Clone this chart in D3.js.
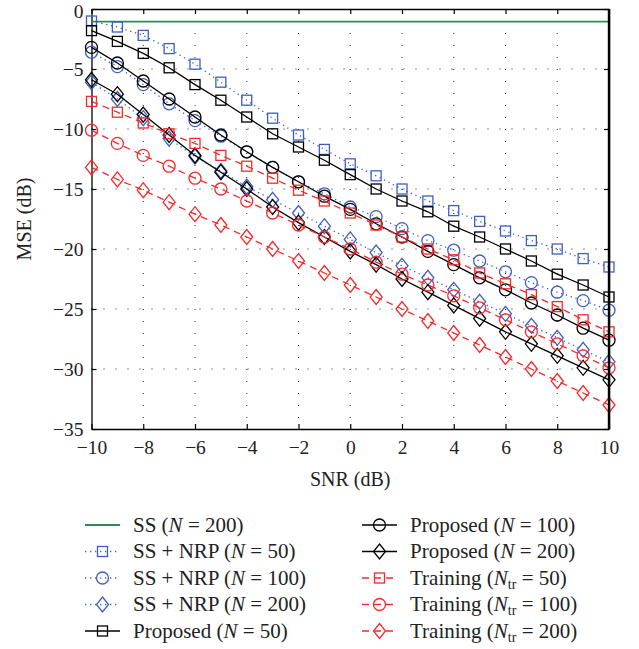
<!DOCTYPE html>
<html>
<head>
<meta charset="utf-8">
<script src="https://cdn.jsdelivr.net/npm/d3@7"></script>
<style>
  body { margin: 0; background: #fff; }
  svg text { font-family: "Liberation Serif", "Times New Roman", Times, "DejaVu Serif", serif; }
</style>
</head>
<body>
<svg id="chart"></svg>
<script>
// SNR axis values (dB)
const snr = d3.range(-10, 11, 1);

// MSE (dB) per series
const ssN200      = snr.map(() => -1.05);
const nrpN50      = [-1.0, -1.5, -2.2, -3.3, -4.6, -6.1, -7.6, -9.1, -10.5, -11.7, -12.9, -13.9, -15.0, -16.0, -16.8, -17.7, -18.5, -19.3, -20.0, -20.8, -21.5];
const nrpN100     = [-3.6, -4.8, -6.3, -7.9, -9.3, -10.6, -11.9, -13.2, -14.4, -15.4, -16.5, -17.3, -18.3, -19.3, -20.1, -21.0, -21.9, -22.8, -23.6, -24.3, -25.1];
const nrpN200     = [-6.1, -7.5, -9.1, -10.8, -12.3, -13.5, -14.8, -15.9, -17.0, -18.1, -19.2, -20.3, -21.4, -22.4, -23.4, -24.4, -25.4, -26.4, -27.4, -28.4, -29.4];
const propN50     = [-1.8, -2.7, -3.7, -4.9, -6.3, -7.6, -9.0, -10.4, -11.5, -12.6, -13.8, -15.0, -16.0, -16.9, -18.1, -19.0, -20.0, -21.0, -22.1, -23.0, -24.0];
const propN100    = [-3.2, -4.5, -6.0, -7.5, -9.0, -10.5, -11.9, -13.2, -14.4, -15.6, -16.7, -17.9, -19.0, -20.2, -21.3, -22.4, -23.4, -24.5, -25.5, -26.6, -27.6];
const propN200    = [-5.9, -7.1, -8.8, -10.5, -12.2, -13.6, -15.0, -16.5, -17.8, -19.0, -20.2, -21.3, -22.5, -23.6, -24.7, -25.8, -26.9, -27.9, -28.9, -29.9, -30.9];
const trainN50    = [-7.7, -8.6, -9.5, -10.4, -11.2, -12.2, -13.1, -14.1, -15.1, -16.0, -17.0, -18.0, -19.0, -20.0, -20.9, -22.0, -22.9, -23.8, -24.8, -25.9, -26.9];
const trainN100   = [-10.1, -11.2, -12.2, -13.1, -14.1, -15.0, -16.0, -17.0, -18.0, -19.0, -20.0, -21.1, -22.1, -23.0, -23.9, -24.9, -25.9, -26.9, -27.9, -28.9, -29.9];
const trainN200   = [-13.2, -14.2, -15.1, -16.1, -17.1, -18.0, -19.0, -20.0, -21.0, -22.0, -23.0, -24.0, -25.0, -26.0, -27.0, -28.0, -29.0, -30.0, -31.0, -32.0, -33.0];

// tick values
const xTicks = [-10, -8, -6, -4, -2, 0, 2, 4, 6, 8, 10];
const yTicks = [0, -5, -10, -15, -20, -25, -30, -35];

const BLUE = "#3d5fc4", RED = "#f52a2a", GREEN = "#2e8b57", BLACK = "#000";

const series = [
  { name: "SS", n: "N", val: "200", data: ssN200,    color: GREEN, dash: null,    marker: null, w: 1.8 },
  { name: "SS + NRP", n: "N", val: "50",  data: nrpN50,  color: BLUE,  dash: "1.3,3.7", marker: "square" },
  { name: "SS + NRP", n: "N", val: "100", data: nrpN100, color: BLUE,  dash: "1.3,3.7", marker: "circle" },
  { name: "SS + NRP", n: "N", val: "200", data: nrpN200, color: BLUE,  dash: "1.3,3.7", marker: "diamond" },
  { name: "Proposed", n: "N", val: "50",  data: propN50,  color: BLACK, dash: null, marker: "square" },
  { name: "Proposed", n: "N", val: "100", data: propN100, color: BLACK, dash: null, marker: "circle" },
  { name: "Proposed", n: "N", val: "200", data: propN200, color: BLACK, dash: null, marker: "diamond" },
  { name: "Training", n: "N", sub: "tr", val: "50",  data: trainN50,  color: RED, dash: "7,5", marker: "square" },
  { name: "Training", n: "N", sub: "tr", val: "100", data: trainN100, color: RED, dash: "7,5", marker: "circle" },
  { name: "Training", n: "N", sub: "tr", val: "200", data: trainN200, color: RED, dash: "7,5", marker: "diamond" }
];

const width = 639, height = 649;
const margin = { top: 9, right: 30, bottom: 220, left: 91.5 };
const svg = d3.select("#chart").attr("width", width).attr("height", height);

const x = d3.scaleLinear().domain([-10, 10]).range([margin.left, width - margin.right]);
const y = d3.scaleLinear().domain([0, -35]).range([margin.top, height - margin.bottom]);

// grid
const grid = svg.append("g").attr("stroke", "#222").attr("stroke-width", 1).attr("stroke-dasharray", "1,11");
grid.selectAll(".gx").data(xTicks.slice(1, -1)).enter().append("line")
  .attr("x1", d => x(d)).attr("x2", d => x(d)).attr("y1", y(0)).attr("y2", y(-35));
grid.selectAll(".gy").data(yTicks.slice(1, -1)).enter().append("line")
  .attr("y1", d => y(d)).attr("y2", d => y(d)).attr("x1", x(-10)).attr("x2", x(10));

// axes
const fmt = d3.format("d");
const xAxis = svg.append("g").attr("transform", `translate(0,${y(-35)})`)
  .call(d3.axisBottom(x).tickValues(xTicks).tickSizeInner(-5).tickSizeOuter(0).tickPadding(11).tickFormat(fmt));
const yAxis = svg.append("g").attr("transform", `translate(${x(-10)},0)`)
  .call(d3.axisLeft(y).tickValues(yTicks).tickSizeInner(-5).tickSizeOuter(0).tickPadding(8).tickFormat(fmt));
svg.append("g").attr("transform", `translate(0,${y(0)})`)
  .call(d3.axisTop(x).tickValues(xTicks).tickSizeInner(-5).tickSizeOuter(0).tickFormat(""));
svg.append("g").attr("transform", `translate(${x(10)},0)`)
  .call(d3.axisRight(y).tickValues(yTicks).tickSizeInner(-5).tickSizeOuter(0).tickFormat(""));
svg.selectAll(".domain").attr("stroke", "#000").attr("stroke-width", 1.3);
svg.selectAll(".tick line").attr("stroke", "#000").attr("stroke-width", 1.2);
[xAxis, yAxis].forEach(a => a.selectAll("text")
  .attr("font-family", null).attr("font-size", 19.5).attr("fill", "#222"));
// keep the top "0" label inside the page
yAxis.selectAll(".tick").filter(d => d === 0).select("text").attr("dy", "0.45em");

// axis titles
svg.append("text").attr("x", (x(-10) + x(10)) / 2).attr("y", 486)
  .attr("text-anchor", "middle").attr("font-size", 20).attr("fill", "#222").text("SNR (dB)");
svg.append("text").attr("transform", `translate(31,${(y(0) + y(-35)) / 2}) rotate(-90)`)
  .attr("text-anchor", "middle").attr("font-size", 20).attr("fill", "#222").text("MSE (dB)");

// marker drawing
function drawMarker(g, type, cx, cy, color) {
  if (type === "square") {
    g.append("rect").attr("x", cx - 5).attr("y", cy - 5).attr("width", 10).attr("height", 10)
      .attr("fill", "none").attr("stroke", color).attr("stroke-width", 1.3);
  } else if (type === "circle") {
    g.append("circle").attr("cx", cx).attr("cy", cy).attr("r", 6)
      .attr("fill", "none").attr("stroke", color).attr("stroke-width", 1.3);
  } else if (type === "diamond") {
    g.append("path").attr("d", `M${cx},${cy - 7.5}L${cx + 6},${cy}L${cx},${cy + 7.5}L${cx - 6},${cy}Z`)
      .attr("fill", "none").attr("stroke", color).attr("stroke-width", 1.3);
  }
}

const line = d3.line().x((d, i) => x(snr[i])).y(d => y(d));
const plot = svg.append("g");
series.forEach(s => {
  const g = plot.append("g");
  g.append("path").attr("d", line(s.data)).attr("fill", "none")
    .attr("stroke", s.color).attr("stroke-width", s.w || 1.3)
    .attr("stroke-dasharray", s.dash);
  if (s.marker) s.data.forEach((v, i) => drawMarker(g, s.marker, x(snr[i]), y(v), s.color));
});

// right axis drawn heavier like the figure
svg.append("line").attr("x1", x(10)).attr("x2", x(10)).attr("y1", y(0)).attr("y2", y(-35))
  .attr("stroke", "#000").attr("stroke-width", 2.4);

// legend
const legRows = [525, 551.5, 578, 604.5, 631];
const legCols = [{ x0: 85, x1: 120, tx: 133 }, { x0: 362, x1: 397, tx: 410 }];
series.forEach((s, k) => {
  const col = legCols[k < 5 ? 0 : 1];
  const ly = legRows[k < 5 ? k : k - 5];
  const g = svg.append("g");
  g.append("line").attr("x1", col.x0).attr("x2", col.x1).attr("y1", ly).attr("y2", ly)
    .attr("stroke", s.color).attr("stroke-width", s.w || 1.3).attr("stroke-dasharray", s.dash);
  if (s.marker) drawMarker(g, s.marker, (col.x0 + col.x1) / 2, ly, s.color);
  const t = g.append("text").attr("x", col.tx).attr("y", ly + 6.5)
    .attr("font-size", 21).attr("fill", "#222");
  t.append("tspan").text(s.name + " (");
  t.append("tspan").attr("font-style", "italic").text(s.n);
  if (s.sub) t.append("tspan").attr("font-size", 14).attr("dy", 4).text(s.sub);
  t.append("tspan").attr("dy", s.sub ? -4 : 0).text(" = " + s.val + ")");
});
</script>
</body>
</html>
